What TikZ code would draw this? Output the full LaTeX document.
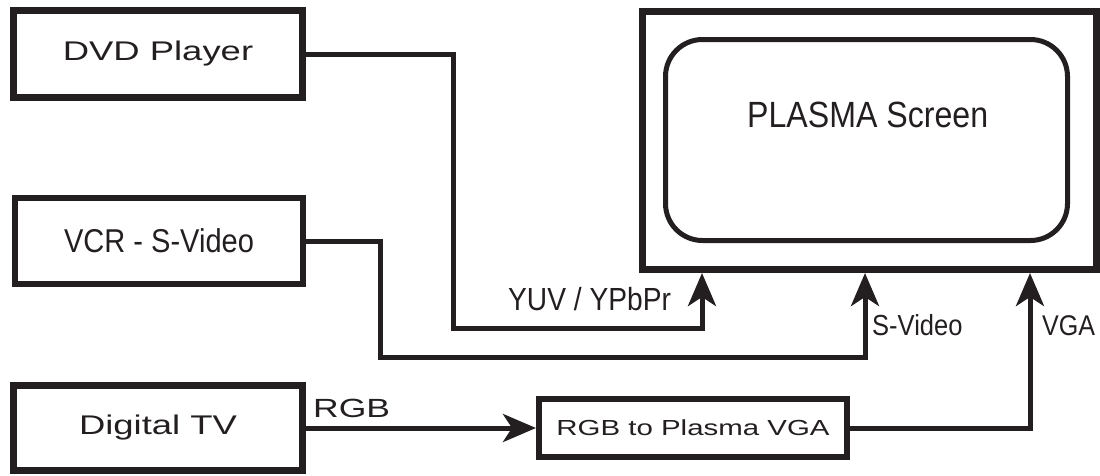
\documentclass[tikz,border=0pt]{standalone}
\usepackage{fontspec}
\usetikzlibrary{arrows.meta}
\newfontfamily\widefont[FakeStretch=1.35]{Liberation Sans}
\newfontfamily\condfont[FakeStretch=0.88]{Liberation Sans}
\definecolor{ink}{HTML}{231F20}
\tikzset{
  devbox/.style={draw=ink, rectangle, inner sep=0pt, text=ink, align=center},
  wire/.style={draw=ink, line width=5pt},
  tip/.style={-{Stealth[length=33pt,width=28pt,inset=9pt]}},
  lbl/.style={inner sep=0pt, text=ink, anchor=base west},
}
\newcommand{\fs}[1]{\fontsize{#1}{#1}\selectfont}
\begin{document}
\begin{tikzpicture}[x=1pt,y=-1pt]
\useasboundingbox (0,0) rectangle (1100,475);
% device boxes
\node[devbox, line width=7pt, minimum width=289pt, minimum height=87pt] (dvd) at (158,54) {\widefont\fs{27}DVD Player};
\node[devbox, line width=6pt, minimum width=288pt, minimum height=86pt] (vcr) at (159,241) {\condfont\fs{33}VCR - S-Video};
\node[devbox, line width=7pt, minimum width=289pt, minimum height=85pt] (dtv) at (158,428) {\widefont\fs{27}Digital TV};
\node[devbox, line width=6pt, minimum width=308pt, minimum height=58pt] (conv) at (693,428) {\widefont\fs{21.8}RGB to Plasma VGA};
% plasma
\node[devbox, line width=7pt, minimum width=454pt, minimum height=258pt] (plasma) at (869.5,140.5) {};
\node[devbox, line width=5pt, rounded corners=37pt, minimum width=402pt, minimum height=201pt] (screen) at (866.5,140) {};
\node[lbl] (screentxt) at (747,127) {\condfont\fs{36.5}PLASMA Screen};
% routing coordinates
\coordinate (d1) at (453,54);
\coordinate (d2) at (702,328);
\coordinate (v1) at (380,241);
\coordinate (v2) at (865,357);
\coordinate (g1) at (1030,428);
% connectors
\draw[wire, tip] (dvd.east) -- (d1) |- (d2) -- (d2 |- plasma.south);
\draw[wire, tip] (vcr.east) -- (v1) |- (v2) -- (v2 |- plasma.south);
\draw[wire, tip] (dtv.east) -- (conv.west);
\draw[wire, tip] (conv.east) -- (g1) -- (g1 |- plasma.south);
% labels
\node[lbl] (lyuv) at (508,310) {\condfont\fs{32}YUV / YPbPr};
\node[lbl] (lsv) at (872,335) {\condfont\fs{29}S-Video};
\node[lbl] (lvga) at (1042,335) {\condfont\fs{28.5}VGA};
\node[lbl] (lrgb) at (313,417) {\widefont\fs{26.3}RGB};
\end{tikzpicture}
\end{document}
